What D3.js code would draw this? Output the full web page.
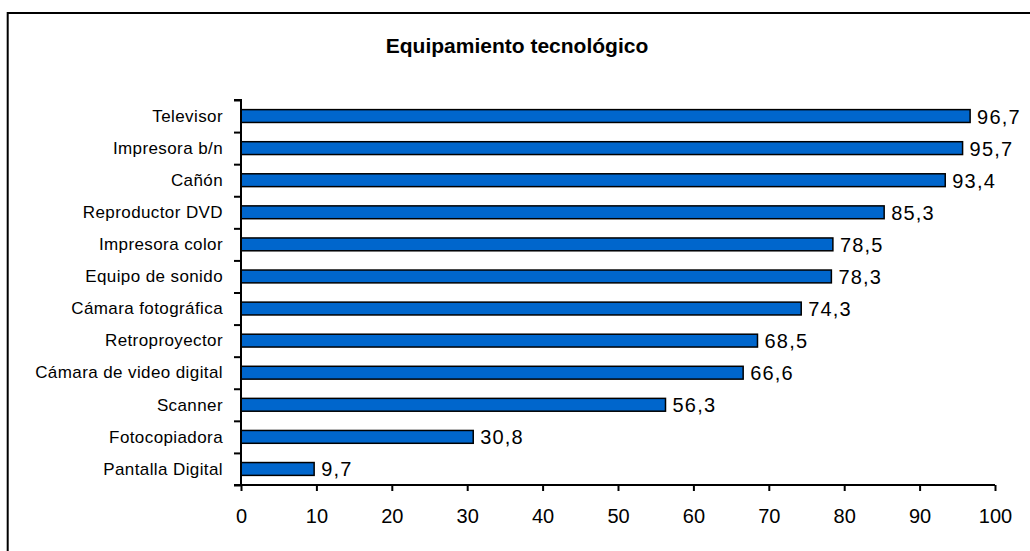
<!DOCTYPE html>
<html>
<head>
<meta charset="utf-8">
<script src="https://cdn.jsdelivr.net/npm/d3@7"></script>
<style>
  html, body { margin: 0; padding: 0; background: #fff; }
  svg { display: block; }
  text { font-family: "Liberation Sans", Arial, sans-serif; fill: #000; }
</style>
</head>
<body>
<svg id="chart" width="1030" height="551"></svg>
<script>
const title = "Equipamiento tecnológico";
const categories = ["Televisor", "Impresora b/n", "Cañón", "Reproductor DVD", "Impresora color",
  "Equipo de sonido", "Cámara fotográfica", "Retroproyector", "Cámara de video digital",
  "Scanner", "Fotocopiadora", "Pantalla Digital"];
const values = [96.7, 95.7, 93.4, 85.3, 78.5, 78.3, 74.3, 68.5, 66.6, 56.3, 30.8, 9.7];
const xTicks = [0, 10, 20, 30, 40, 50, 60, 70, 80, 90, 100];

(function () {
const svg = d3.select("#chart");
const mLeft = 241, mRight = 995, mTop = 100, mBottom = 485;

// outer frame (extends beyond the visible area on right/bottom)
svg.append("rect")
  .attr("x", 7.7).attr("y", 13).attr("width", 1100).attr("height", 600)
  .attr("fill", "none").attr("stroke", "#000").attr("stroke-width", 2);

svg.append("text")
  .attr("x", 517).attr("y", 53)
  .attr("text-anchor", "middle")
  .attr("font-size", 21).attr("font-weight", "bold")
  .text(title);

const x = d3.scaleLinear().domain([0, 100]).range([mLeft, mRight]);
const y = d3.scaleBand().domain(categories).range([mTop, mBottom]).paddingInner(0).paddingOuter(0);
const yB = d3.scaleLinear().domain([0, categories.length]).range([mTop, mBottom]);

const barFrac = 0.4;
const bh = y.bandwidth() * barFrac;

svg.append("g").selectAll("rect")
  .data(categories)
  .join("rect")
  .attr("x", x(0))
  .attr("y", d => y(d) + (y.bandwidth() - bh) / 2)
  .attr("width", (d, i) => x(values[i]) - x(0))
  .attr("height", bh)
  .attr("fill", "#0066CC")
  .attr("stroke", "#000")
  .attr("stroke-width", 1.5);

// value labels
svg.append("g").selectAll("text")
  .data(categories)
  .join("text")
  .attr("x", (d, i) => x(values[i]) + 7)
  .attr("y", d => y(d) + y.bandwidth() / 2 + 7.5)
  .attr("font-size", 20)
  .attr("letter-spacing", "1.2px")
  .text((d, i) => String(values[i]).replace(".", ","));

// y axis: boundary ticks
const yAxisG = svg.append("g")
  .attr("transform", `translate(${mLeft},0)`)
  .call(d3.axisLeft(yB).tickValues(d3.range(categories.length + 1)).tickSize(7).tickFormat(""));
yAxisG.selectAll("path, line").attr("stroke", "#000").attr("stroke-width", 2);
yAxisG.select(".domain").attr("d", `M-7,${mTop}H0V${mBottom}H-7`);

// category labels
const yLab = svg.append("g")
  .attr("transform", `translate(${mLeft},0)`)
  .call(d3.axisLeft(y).tickSize(0).tickPadding(18));
yLab.select(".domain").remove();
yLab.selectAll("text")
  .attr("font-size", 17)
  .attr("letter-spacing", "0.4px")
  .attr("font-family", "'Liberation Sans', Arial, sans-serif")
  .attr("dy", "0.34em");

// x axis
const xAxisG = svg.append("g")
  .attr("transform", `translate(0,${mBottom})`)
  .call(d3.axisBottom(x).tickValues(xTicks).tickSize(6).tickPadding(18).tickFormat(d3.format("d")));
xAxisG.selectAll("path, line").attr("stroke", "#000").attr("stroke-width", 2);
xAxisG.select(".domain").attr("d", `M${mLeft},0H${mRight}`);
xAxisG.selectAll("text")
  .attr("font-size", 20)
  .attr("font-family", "'Liberation Sans', Arial, sans-serif");
})();
</script>
</body>
</html>
